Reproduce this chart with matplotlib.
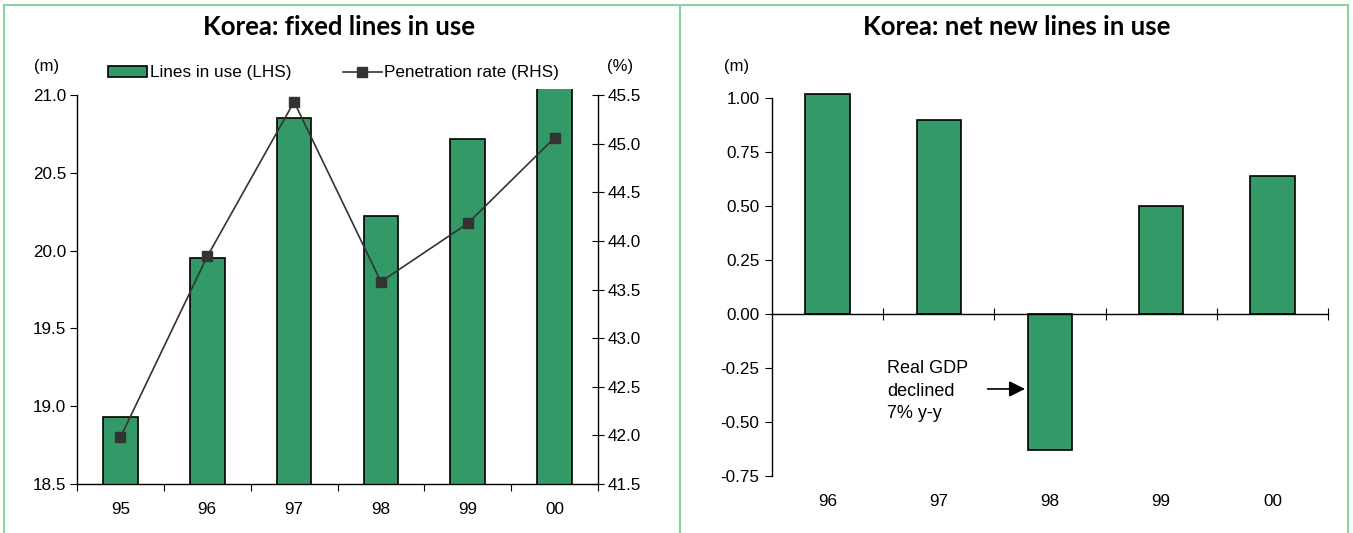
import matplotlib
matplotlib.use("Agg")
import matplotlib.pyplot as plt
from matplotlib.patches import Rectangle

years_left = ["95", "96", "97", "98", "99", "00"]
lines_in_use = [18.93, 19.95, 20.85, 20.22, 20.72, 21.36]      # m, LHS
penetration = [41.98, 43.84, 45.43, 43.58, 44.18, 45.06]       # %, RHS

years_right = ["96", "97", "98", "99", "00"]
net_new_lines = [1.02, 0.90, -0.63, 0.50, 0.64]                # m

GREEN = "#339966"
BORDER = "#8fd19e"
LINE = "#333333"

plt.rcParams["font.family"] = ["Liberation Sans", "DejaVu Sans"]
plt.rcParams["font.size"] = 12.3
plt.rcParams["axes.linewidth"] = 1.0

W, H = 1353, 533
fig = plt.figure(figsize=(W / 100, H / 100), dpi=100)


def fx(px):
    return px / W


def fy(py):
    return 1 - py / H


# panel frames
fig.patches.append(Rectangle((fx(4), fy(540)), fx(676), fy(5) - fy(540), transform=fig.transFigure,
                             fill=False, edgecolor=BORDER, lw=1.5))
fig.patches.append(Rectangle((fx(680), fy(540)), fx(668), fy(5) - fy(540), transform=fig.transFigure,
                             fill=False, edgecolor=BORDER, lw=1.5))

# ---------- left panel ----------
ax = fig.add_axes([fx(77), fy(484), fx(598 - 77), fy(88.8) - fy(484)])
x = range(len(years_left))
bars = ax.bar(x, lines_in_use, width=0.4, color=GREEN, edgecolor="black", lw=1.2,
              label="Lines in use (LHS)", zorder=2)
ax.set_xlim(-0.5, 5.5)
ax.set_ylim(18.5, 21.04)
ax.spines["top"].set_visible(False)
ax.spines["left"].set_bounds(18.5, 21.0)
ax.spines["right"].set_visible(False)
ax.set_yticks([18.5, 19.0, 19.5, 20.0, 20.5, 21.0])
ax.set_yticklabels([f"{v:.1f}" for v in ax.get_yticks()])
ax.set_xticks([i - 0.5 for i in range(len(years_left) + 1)])
ax.set_xticklabels([])
ax.set_xticks(list(x), minor=True)
ax.set_xticklabels(years_left, minor=True)
ax.tick_params(axis="x", which="major", direction="out", length=5)
ax.tick_params(axis="x", which="minor", length=0, pad=13)
ax.tick_params(axis="y", direction="out", length=5, pad=3)

ax2 = ax.twinx()
ln, = ax2.plot(list(x), penetration, color=LINE, lw=1.2, marker="s", markersize=7.5,
               label="Penetration rate (RHS)", zorder=3)
ax2.set_ylim(41.5, 41.5 + 2.54 * 1.6)
ax2.spines["top"].set_visible(False)
ax2.spines["left"].set_visible(False)
ax2.spines["bottom"].set_visible(False)
ax2.spines["right"].set_bounds(41.5, 45.5)
ax2.set_yticks([41.5, 42.0, 42.5, 43.0, 43.5, 44.0, 44.5, 45.0, 45.5])
ax2.set_yticklabels([f"{v:.1f}" for v in ax2.get_yticks()])
ax2.tick_params(axis="y", direction="inout", length=8, pad=3)

fig.text(fx(339), fy(27), "Korea: fixed lines in use", ha="center", va="center",
         fontsize=18.5, fontweight="bold", family=["Lato", "DejaVu Sans"])
fig.text(fx(47), fy(67), "(m)", ha="center", va="center", fontsize=12)
fig.text(fx(620), fy(67), "(%)", ha="center", va="center", fontsize=12)
fig.legend([bars, ln], ["Lines in use (LHS)", "Penetration rate (RHS)"], ncol=2,
           loc="center left", bbox_to_anchor=(fx(108), fy(73)), frameon=False,
           handlelength=2.3, handleheight=0.65, handletextpad=0.15, columnspacing=3.0,
           borderpad=0, borderaxespad=0, fontsize=12.3)

# ---------- right panel ----------
bx = fig.add_axes([fx(772), fy(476), fx(1328 - 772), fy(87.2) - fy(476)])
xr = range(len(years_right))
bx.bar(xr, net_new_lines, width=0.4, color=GREEN, edgecolor="black", lw=1.2, zorder=2)
bx.set_xlim(-0.5, 4.5)
bx.set_ylim(-0.75, 1.05)
bx.spines["top"].set_visible(False)
bx.spines["right"].set_visible(False)
bx.spines["left"].set_bounds(-0.75, 1.0)
bx.spines["bottom"].set_position(("data", 0))
bx.set_yticks([-0.75, -0.5, -0.25, 0.0, 0.25, 0.5, 0.75, 1.0])
bx.set_yticklabels([f"{v:.2f}" for v in bx.get_yticks()])
bx.tick_params(axis="y", direction="out", length=5, pad=4)
bx.set_xticks([i + 0.5 for i in range(len(years_right))])
bx.set_xticklabels([])
bx.tick_params(axis="x", direction="inout", length=8)

sec = bx.secondary_xaxis("bottom")
sec.set_xticks(list(xr))
sec.set_xticklabels(years_right)
sec.tick_params(length=0, pad=13)
sec.spines["bottom"].set_visible(False)

fig.text(fx(1017), fy(27), "Korea: net new lines in use", ha="center", va="center",
         fontsize=18.5, fontweight="bold", family=["Lato", "DejaVu Sans"])
fig.text(fx(737), fy(67), "(m)", ha="center", va="center", fontsize=12)

bx.annotate("", xy=(1.8, -0.347), xytext=(1.414, -0.347),
            arrowprops=dict(arrowstyle="-|>", color="black", lw=1.2, mutation_scale=24))
bx.text(0.533, -0.215, "Real GDP\ndeclined\n7% y-y", ha="left", va="top", fontsize=13,
        linespacing=1.42)

fig.savefig("out.png", dpi=100)
